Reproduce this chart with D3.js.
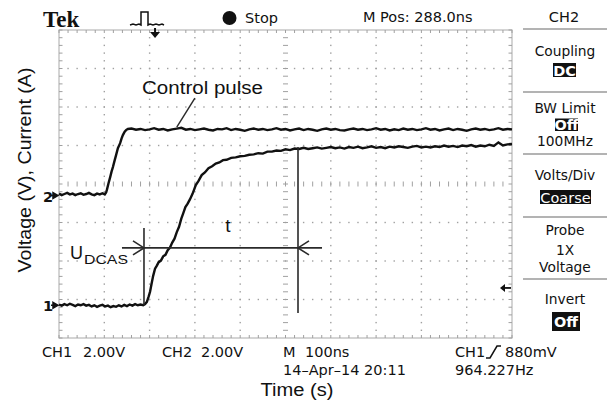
<!DOCTYPE html>
<html><head><meta charset="utf-8">
<script src="https://cdn.jsdelivr.net/npm/d3@7"></script>
<style>
body{margin:0;background:#fff}
svg{display:block}
.ui{font-family:"DejaVu Sans",sans-serif;font-size:14.5px;fill:#111}
.menu{font-size:13.8px}
.ann{font-family:"Liberation Sans",Arial,sans-serif;fill:#111}
</style>
</head><body>
<svg id="c" width="607" height="400"></svg>
<script>
// ---- data (time in ns from left edge of screen, level in divisions from screen centre) ----
const controlPulse = [
 [0,-0.25],[6,-0.29],[12,-0.26],[18,-0.23],[24,-0.27],[30,-0.25],[36,-0.29],[42,-0.26],[48,-0.24],[54,-0.28],
 [60,-0.26],[66,-0.23],[72,-0.27],[78,-0.29],[84,-0.25],[90,-0.27],[96,-0.24],[101,-0.27],
 [104,-0.22],[106,-0.14],[110,0.05],[113,0.18],[116,0.32],[119,0.44],[123,0.62],[126,0.75],[130,0.93],
 [135,1.06],[138,1.18],[141,1.27],[145,1.36],[148,1.40],[152,1.43],
 [160,1.44],[170,1.41],[180,1.43],[190,1.40],[200,1.42],[210,1.45],[220,1.41],[230,1.43],[240,1.39],[250,1.42],
 [260,1.44],[270,1.46],[280,1.41],[290,1.43],[300,1.40],[310,1.42],[320,1.44],[330,1.41],[340,1.39],[350,1.43],
 [360,1.42],[370,1.45],[380,1.40],[390,1.43],[400,1.41],[410,1.38],[420,1.42],[430,1.44],[440,1.41],[450,1.43],
 [460,1.40],[470,1.42],[480,1.45],[490,1.41],[500,1.43],[510,1.39],[520,1.42],[530,1.44],[540,1.40],[550,1.43],
 [560,1.41],[570,1.38],[580,1.42],[590,1.44],[600,1.41],[610,1.43],[620,1.40],[630,1.39],[640,1.42],[650,1.44],
 [660,1.41],[670,1.43],[680,1.40],[690,1.42],[700,1.45],[710,1.41],[720,1.43],[730,1.39],[740,1.42],[750,1.40],
 [760,1.44],[770,1.41],[780,1.43],[790,1.40],[800,1.42],[810,1.45],[820,1.41],[830,1.43],[840,1.39],[850,1.42],
 [860,1.44],[870,1.40],[880,1.43],[890,1.41],[900,1.38],[910,1.42],[920,1.44],[930,1.41],[940,1.43],[950,1.40],
 [960,1.42],[970,1.45],[980,1.41],[990,1.43],[1000,1.42]
];
const currentTrace = [
 [0,-3.13],[6,-3.16],[12,-3.12],[18,-3.15],[24,-3.11],[30,-3.14],[36,-3.17],[42,-3.13],[48,-3.15],[54,-3.12],
 [60,-3.16],[66,-3.14],[72,-3.18],[78,-3.15],[84,-3.19],[90,-3.16],[96,-3.14],[102,-3.18],[108,-3.16],[114,-3.20],
 [120,-3.17],[126,-3.19],[132,-3.15],[138,-3.18],[144,-3.14],[150,-3.17],[156,-3.13],[162,-3.16],[168,-3.12],
 [174,-3.15],[180,-3.13],[186,-3.15],[190,-3.12],
 [194,-3.06],[198,-2.92],[201,-2.80],[205,-2.55],[208,-2.38],[212,-2.20],[216,-2.12],[220,-2.03],[225,-1.99],
 [230,-1.88],[235,-1.84],[240,-1.72],[245,-1.65],[250,-1.52],[255,-1.42],[260,-1.25],[265,-1.11],[270,-0.90],
 [274,-0.77],[279,-0.60],[284,-0.51],[289,-0.40],[295,-0.25],[302,-0.03],[308,0.08],[315,0.23],[322,0.30],
 [330,0.41],[338,0.46],[346,0.53],[354,0.56],[362,0.62],[370,0.63],[380,0.68],[390,0.69],[400,0.72],[410,0.73],
 [420,0.76],[430,0.77],[440,0.80],[450,0.79],[460,0.84],[470,0.84],[480,0.87],[490,0.86],[500,0.90],[510,0.88],
 [520,0.92],[530,0.91],
 [540,0.94],[550,0.91],[560,0.93],[570,0.95],[580,0.92],[590,0.94],[600,0.96],[610,0.93],[620,0.95],[630,0.92],
 [640,0.96],[650,0.94],[660,0.97],[670,0.93],[680,0.95],[690,0.98],[700,0.94],[710,0.96],[720,0.93],[730,0.97],
 [740,0.95],[750,0.98],[760,0.96],[770,0.94],[780,0.97],[790,0.99],[800,0.95],[810,0.97],[820,0.95],[830,0.98],
 [840,0.96],[850,1.00],[860,0.97],[870,0.99],[880,0.96],[890,1.00],[900,0.98],[910,1.01],[920,0.97],[930,1.00],
 [940,0.98],[950,1.02],[960,0.99],[970,1.08],[980,1.00],[990,1.03],[1000,1.04]
];
// channel ground markers (label, level in div)
const channelLabels = ["2","1"];
const channelLevels = [-0.30, -3.15];
// annotation geometry in data units
const markerTimes = [187.6, 527.6];      // start of rise, end of interval t
const markerTops = [-1.14, 0.96];
const markerBottoms = [-3.14, -3.35];
const intervalLevel = [-1.66];
const intervalSpan = [139, 580.6];
const leaderLine = [[300, 2.23], [260, 1.48]];
const triggerTime = [212];
const triggerLevel = [-2.70];
// text content
const headerTexts = ["Tek", "Stop", "M Pos: 288.0ns", "CH2"];
const menuTitles = ["Coupling", "BW Limit", "Volts/Div", "Probe", "Invert"];
const menuValues = ["DC", "Off", "Coarse", "Off"];
const menuExtras = ["100MHz", "1X", "Voltage"];
const readouts = ["CH1", "2.00V", "CH2", "2.00V", "M", "100ns", "14\u2013Apr\u201314 20:11", "CH1", "880mV", "964.227Hz"];
const axisTitles = ["Voltage (V), Current (A)", "Time (s)"];
const annotationTexts = ["Control pulse", "t", "U", "DCAS"];

// ---- scales ----
const svg = d3.select("#c");
const x = d3.scaleLinear().domain([0, 1000]).range([59, 512]);
const y = d3.scaleLinear().domain([-4, 4]).range([338, 30]);

// ---- graticule ----
const g = svg.append("g");
const minorT = d3.range(0, 1000.01, 20);
const minorV = d3.range(-4, 4.001, 0.2);
const gridColor = "#a0a0a0";
d3.range(100, 1000, 100).filter(t => t !== 500).forEach(t => {
  g.selectAll(null).data(minorV.slice(1, -1)).enter().append("rect")
    .attr("x", x(t) - 0.7).attr("y", d => y(d) - 0.7).attr("width", 1.4).attr("height", 1.4).attr("fill", gridColor);
});
d3.range(-3, 4, 1).filter(v => v !== 0).forEach(v => {
  g.selectAll(null).data(minorT.slice(1, -1)).enter().append("rect")
    .attr("x", d => x(d) - 0.7).attr("y", y(v) - 0.7).attr("width", 1.4).attr("height", 1.4).attr("fill", gridColor);
});
g.selectAll(null).data(minorV.slice(1, -1)).enter().append("line")
  .attr("x1", x(500) - 2.5).attr("x2", x(500) + 2.5).attr("y1", d => y(d)).attr("y2", d => y(d))
  .attr("stroke", gridColor).attr("stroke-width", 1);
g.selectAll(null).data(minorT.slice(1, -1)).enter().append("line")
  .attr("y1", y(0) - 2.5).attr("y2", y(0) + 2.5).attr("x1", d => x(d)).attr("x2", d => x(d))
  .attr("stroke", gridColor).attr("stroke-width", 1);
g.append("rect").attr("x", x(0)).attr("y", y(4)).attr("width", x(1000) - x(0)).attr("height", y(-4) - y(4))
  .attr("fill", "none").attr("stroke", "#b8b8b8").attr("stroke-width", 1.2);
g.selectAll(null).data(minorT).enter().append("line")
  .attr("x1", d => x(d)).attr("x2", d => x(d)).attr("y1", y(4)).attr("y2", y(4) + 3)
  .attr("stroke", gridColor);
g.selectAll(null).data(minorT).enter().append("line")
  .attr("x1", d => x(d)).attr("x2", d => x(d)).attr("y1", y(-4)).attr("y2", y(-4) - 3)
  .attr("stroke", gridColor);
g.selectAll(null).data(minorV).enter().append("line")
  .attr("y1", d => y(d)).attr("y2", d => y(d)).attr("x1", x(0)).attr("x2", x(0) + 3.5)
  .attr("stroke", gridColor);
g.selectAll(null).data(minorV).enter().append("line")
  .attr("y1", d => y(d)).attr("y2", d => y(d)).attr("x1", x(1000)).attr("x2", x(1000) - 3.5)
  .attr("stroke", gridColor);

// ---- traces ----
const line = d3.line().x(d => x(d[0])).y(d => y(d[1]));
[controlPulse, currentTrace].forEach(tr => {
  svg.append("path").attr("d", line(tr)).attr("fill", "none")
    .attr("stroke", "#111").attr("stroke-width", 2.4).attr("stroke-linejoin", "miter");
});

// ---- annotations ----
const annColor = "#2a2a2a";
markerTimes.forEach((t, i) => {
  svg.append("line").attr("x1", x(t)).attr("x2", x(t)).attr("y1", y(markerTops[i])).attr("y2", y(markerBottoms[i]))
    .attr("stroke", annColor).attr("stroke-width", 1.6);
});
svg.append("line").attr("x1", x(intervalSpan[0])).attr("x2", x(intervalSpan[1]))
  .attr("y1", y(intervalLevel[0])).attr("y2", y(intervalLevel[0])).attr("stroke", annColor).attr("stroke-width", 1.6);
const ay = y(intervalLevel[0]);
svg.append("path").attr("d", `M${x(markerTimes[0]) - 11},${ay - 7}L${x(markerTimes[0])},${ay}L${x(markerTimes[0]) - 11},${ay + 7}`)
  .attr("fill", "none").attr("stroke", annColor).attr("stroke-width", 1.6);
svg.append("path").attr("d", `M${x(markerTimes[1]) + 11},${ay - 7}L${x(markerTimes[1])},${ay}L${x(markerTimes[1]) + 11},${ay + 7}`)
  .attr("fill", "none").attr("stroke", annColor).attr("stroke-width", 1.6);
svg.append("line").attr("x1", x(leaderLine[0][0])).attr("y1", y(leaderLine[0][1]))
  .attr("x2", x(leaderLine[1][0])).attr("y2", y(leaderLine[1][1])).attr("stroke", annColor).attr("stroke-width", 1.4);

svg.append("text").attr("class", "ann").attr("x", 142).attr("y", 94).attr("font-size", 18)
  .attr("textLength", 121).attr("lengthAdjust", "spacingAndGlyphs").text(annotationTexts[0]);
svg.append("text").attr("class", "ann").attr("x", 228).attr("y", 232).attr("font-size", 19)
  .attr("text-anchor", "middle").text(annotationTexts[1]);
svg.append("text").attr("class", "ann").attr("x", 70).attr("y", 259).attr("font-size", 18).text(annotationTexts[2]);
svg.append("text").attr("class", "ann").attr("x", 84).attr("y", 264).attr("font-size", 12.5)
  .attr("textLength", 44).attr("lengthAdjust", "spacingAndGlyphs").text(annotationTexts[3]);

svg.append("text").attr("class", "ann").attr("transform", "translate(25,170) rotate(-90)")
  .attr("text-anchor", "middle").attr("dominant-baseline", "central").attr("font-size", 17.5)
  .attr("textLength", 205).attr("lengthAdjust", "spacingAndGlyphs").text(axisTitles[0]);
svg.append("text").attr("class", "ann").attr("x", 297).attr("y", 390).attr("text-anchor", "middle")
  .attr("dominant-baseline", "central").attr("font-size", 18)
  .attr("textLength", 73).attr("lengthAdjust", "spacingAndGlyphs").text(axisTitles[1]);

channelLabels.forEach((lab, i) => {
  const yy = y(channelLevels[i]);
  svg.append("text").attr("class", "ui").attr("x", 43).attr("y", yy + 1).attr("dominant-baseline", "central")
    .attr("font-size", 12).attr("font-weight", "bold").text(lab);
  svg.append("path").attr("d", `M51,${yy}L56,${yy}M53,${yy - 3}L58,${yy}L53,${yy + 3}Z`)
    .attr("stroke", "#111").attr("stroke-width", 1.5).attr("fill", "#111");
});
const ty = y(triggerLevel[0]);
svg.append("path").attr("d", `M${x(1000) - 1},${ty}L${x(1000) - 9},${ty}`).attr("stroke", "#111").attr("stroke-width", 1.8);
svg.append("path").attr("d", `M${x(1000) - 12},${ty}L${x(1000) - 7},${ty - 4}L${x(1000) - 7},${ty + 4}Z`).attr("fill", "#111");
const tx = x(triggerTime[0]);
svg.append("path").attr("d", `M${tx},${y(4) - 2}L${tx},${y(4) + 3}`).attr("stroke", "#111").attr("stroke-width", 2);
svg.append("path").attr("d", `M${tx - 5},${y(4) + 2}L${tx + 5},${y(4) + 2}L${tx},${y(4) + 8}Z`).attr("fill", "#111");

// ---- header ----
svg.append("text").attr("x", 43).attr("y", 27).attr("font-family", "Liberation Serif, serif").attr("font-weight", "bold")
  .attr("font-size", 23).attr("fill", "#111").text(headerTexts[0]);
svg.append("path").attr("d", "M130,25L133,24L136,25L139,24L141,25L141,12L148,12L148,25L150,24L153,25L156,24L159,25L162,24L164,25")
  .attr("fill", "none").attr("stroke", "#111").attr("stroke-width", 1.5);
svg.append("circle").attr("cx", 229.5).attr("cy", 18).attr("r", 7).attr("fill", "#111");
svg.append("text").attr("class", "ui").attr("x", 245).attr("y", 18).attr("dominant-baseline", "central").text(headerTexts[1]);
svg.append("text").attr("class", "ui").attr("x", 363).attr("y", 17).attr("dominant-baseline", "central").text(headerTexts[2]);
svg.append("text").attr("class", "ui").attr("x", 564).attr("y", 17).attr("text-anchor", "middle").attr("dominant-baseline", "central").text(headerTexts[3]);

// ---- right menu ----
[29, 92, 154, 217, 279].forEach(yy => {
  svg.append("line").attr("x1", 523).attr("x2", 607).attr("y1", yy).attr("y2", yy).attr("stroke", "#9a9a9a").attr("stroke-width", 1.3);
});
const titleY = [51, 108, 175, 230, 299];
menuTitles.forEach((t, i) => {
  svg.append("text").attr("class", "ui menu").attr("x", 565).attr("y", titleY[i]).attr("text-anchor", "middle")
    .attr("dominant-baseline", "central").text(t);
});
const boxes = [[553, 63, 23, 14], [555, 118.5, 23, 12.5], [540, 190, 51, 14], [552, 312, 28, 19]];
menuValues.forEach((v, i) => {
  const b = boxes[i];
  svg.append("rect").attr("x", b[0]).attr("y", b[1]).attr("width", b[2]).attr("height", b[3]).attr("fill", "#111");
  svg.append("text").attr("class", "ui").attr("x", b[0] + b[2] / 2).attr("y", b[1] + b[3] / 2 + 0.5)
    .attr("text-anchor", "middle").attr("dominant-baseline", "central").style("fill", "#fff")
    .attr("font-size", i === 2 ? 13.5 : 12.5).attr("font-weight", i === 2 ? "normal" : "bold").text(v);
});
const extraY = [141, 250, 267];
menuExtras.forEach((t, i) => {
  svg.append("text").attr("class", "ui menu").attr("x", 565).attr("y", extraY[i]).attr("text-anchor", "middle")
    .attr("dominant-baseline", "central").text(t);
});

// ---- bottom readouts ----
const readX = [42, 83, 162, 201, 283, 305, 283, 455, 505, 455];
const readY = [352, 352, 352, 352, 352, 352, 370, 352, 352, 370];
readouts.forEach((t, i) => {
  svg.append("text").attr("class", "ui").attr("x", readX[i]).attr("y", readY[i]).attr("dominant-baseline", "central").text(t);
});
svg.append("path").attr("d", "M486,358L490,358L497,346L501,346").attr("fill", "none").attr("stroke", "#111").attr("stroke-width", 1.5);
</script>
</body></html>
